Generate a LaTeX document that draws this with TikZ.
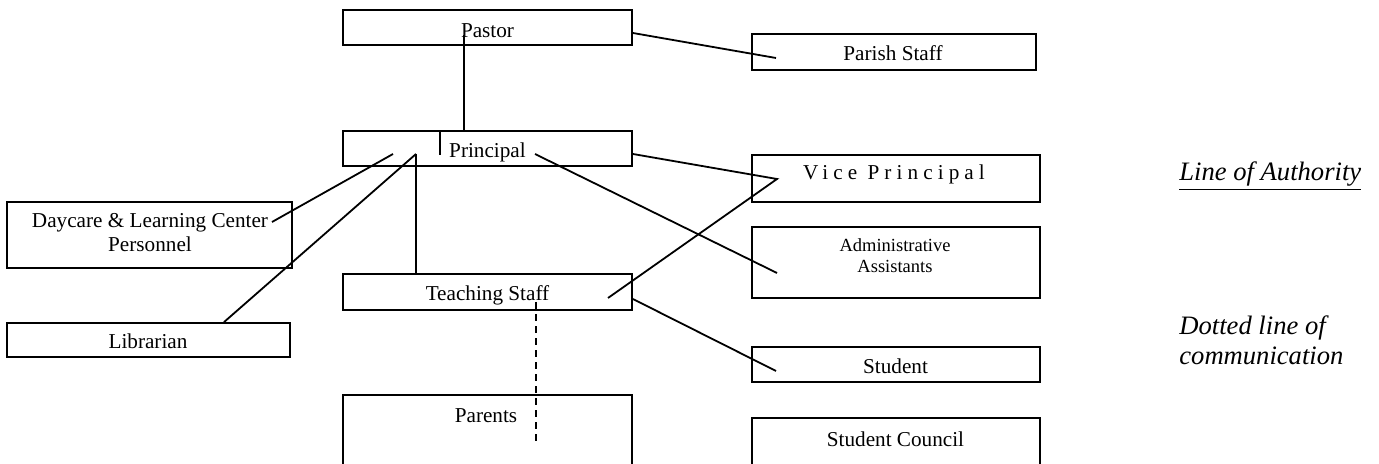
\documentclass[tikz,border=0pt]{standalone}
\usepackage{fontspec}
\setmainfont{Liberation Serif}
\usepackage{tikz}
\usetikzlibrary{calc}

\begin{document}
\begin{tikzpicture}[x=0.5pt,y=-0.5pt,
  box/.style={rectangle,draw,line width=0.9pt,inner sep=0pt,
              minimum width=144.5pt,minimum height=17.5pt},
  lbl/.style={anchor=base,inner sep=0pt,align=center,
              font=\fontsize{10.6}{12}\selectfont},
  note/.style={anchor=base west,inner sep=0pt,align=left,
               font=\fontsize{13.3}{14.5}\selectfont\itshape},
  link/.style={line width=0.9pt},
  comm/.style={line width=0.9pt,dash pattern=on 3.5pt off 2.5pt}]
\clip (0,0) rectangle (1379,464);
% boxes
\node[box] (pastor) at (487.5,27.5) {};
\node[box] (principal) at (487.5,148.5) {};
\node[box,minimum height=18pt] (teaching) at (487.5,292) {};
\node[box,minimum height=45pt] (parents) at (487.5,440) {};
\node[box,minimum width=142pt,minimum height=18pt] (parish) at (894,52) {};
\node[box,minimum width=144pt,minimum height=23.5pt] (vice) at (896,178.5) {};
\node[box,minimum width=144pt,minimum height=35.5pt] (admin) at (896,262.5) {};
\node[box,minimum width=144pt] (student) at (896,364.5) {};
\node[box,minimum width=144pt,minimum height=40pt] (council) at (896,458) {};
\node[box,minimum width=142.5pt,minimum height=33pt] (daycare) at (149.5,235) {};
\node[box,minimum width=141.5pt,minimum height=17pt] (librarian) at (148.5,340) {};
% labels (base = last line)
\node[lbl] (pastortxt) at (487.5,38) {Pastor};
\node[lbl] (principaltxt) at (487.5,158) {Principal};
\node[lbl] (teachingtxt) at (487.5,300) {Teaching Staff};
\node[lbl] (parentstxt) at (486,422) {Parents};
\node[lbl] (parishtxt) at (893,61) {Parish Staff};
\node[lbl,font=\fontsize{10.6}{12}\selectfont\addfontfeature{LetterSpace=24}]
  (vicetxt) at (894,180) {Vice Principal};
\node[lbl,font=\fontsize{9.25}{10.5}\selectfont] (admintxt) at (895,273)
  {Administrative\\Assistants};
\node[lbl] (studenttxt) at (895.5,373) {Student};
\node[lbl] (counciltxt) at (895.5,446) {Student Council};
\node[lbl] (daycaretxt) at (150,252) {Daycare \& Learning Center\\Personnel};
\node[lbl] (librariantxt) at (148,348) {Librarian};
% legend
\node[note] (authority) at (1179,181) {\underline{Line of Authority}};
\node[note] (dotted) at (1179,364) {Dotted line of\\communication};
% line ends inside the boxes
\coordinate (pastorDrop) at (464,35);
\coordinate (prinTick) at (440,155);
\coordinate (prinA) at (393,154);
\coordinate (prinB) at (416,154);
\coordinate (prinC) at (535,154);
\coordinate (parishIn) at (776,58);
\coordinate (viceIn) at (777,179);
\coordinate (adminIn) at (777,273);
\coordinate (teachIn) at (608,298);
\coordinate (studentIn) at (776,371);
\coordinate (daycareIn) at (272,222);
\coordinate (teachDrop) at (536,302);
\coordinate (parentsIn) at (536,445);
% lines of authority
\draw[link] (pastorDrop) -- (pastorDrop |- principal.north);
\draw[link] (prinTick |- principal.north) -- (prinTick);
\draw[link] ([yshift=-2.75pt]pastor.east) -- (parishIn);
\draw[link] ([yshift=-2.75pt]principal.east) -- (viceIn) -- (teachIn);
\draw[link] (prinC) -- (adminIn);
\draw[link] ([yshift=-3.5pt]teaching.east) -- (studentIn);
\draw[link] (prinA) -- (daycareIn);
\draw[link] (prinB) -- (librarian.north -| 224,0);
\draw[link] (prinB) -- (teaching.north -| prinB);
% communication
\draw[comm] (teachDrop) -- (parentsIn);
\end{tikzpicture}
\end{document}
